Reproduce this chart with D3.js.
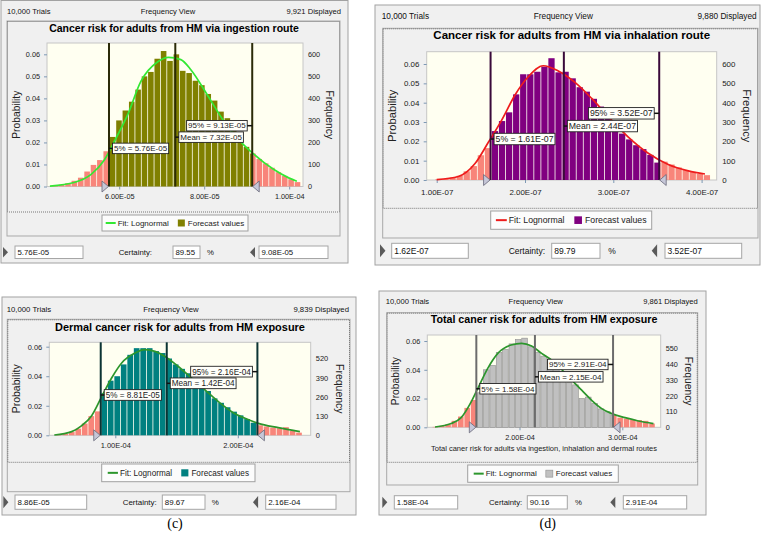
<!DOCTYPE html>
<html>
<head>
<meta charset="utf-8">
<script src="https://cdn.jsdelivr.net/npm/d3@7"></script>
<style>
  html, body { margin: 0; padding: 0; background: #fff; }
  svg { display: block; font-family: "Liberation Sans", Arial, sans-serif; }
</style>
</head>
<body>
<svg id="chart" width="766" height="541"></svg>
<script>
const trialsText = '10,000 Trials';
const viewText = 'Frequency View';
const legendText = ['Fit: Lognormal', 'Forecast values'];

// (a) ingestion
const ingestionTitle = 'Cancer risk for adults from HM via ingestion route';
const ingestionDisplayed = '9,921 Displayed';
const ingestionBins = [4.42e-5, 1.5e-6]; // first bin start, bin width
const ingestionCounts = [
  3, 8, 15, 26, 40, 68, 98, 120, 160,
  225, 300, 345, 385, 440, 500, 520, 580, 615, 570, 600, 525, 515, 480, 460,
  420, 390, 340, 310, 260, 210, 180,
  150, 125, 105, 85, 65, 48, 33, 20
];
const ingestionFit = [
  [4.37e-5, 0.0002], [4.94e-5, 0.0018], [5.34e-5, 0.0055], [5.65e-5, 0.012],
  [5.9e-5, 0.021], [6.2e-5, 0.0326], [6.51e-5, 0.0477], [6.9e-5, 0.0565],
  [7.16e-5, 0.0586], [7.45e-5, 0.0576], [7.69e-5, 0.0529], [8.06e-5, 0.042],
  [8.45e-5, 0.030], [8.85e-5, 0.0205], [9.16e-5, 0.0148], [9.63e-5, 0.0078],
  [1.0e-4, 0.0038], [1.018e-4, 0.0024]
];
const ingestionMarks = [5.76e-5, 7.32e-5, 9.13e-5];
const ingestionMarkText = ['5% = 5.76E-05', 'Mean = 7.32E-05', '95% = 9.13E-05'];
const ingestionXTicks = [6e-5, 8e-5, 1e-4];
const ingestionXTickText = ['6.00E-05', '8.00E-05', '1.00E-04'];
const ingestionProbTicks = [0, 0.01, 0.02, 0.03, 0.04, 0.05, 0.06];
const ingestionFreqTicks = [0, 100, 200, 300, 400, 500, 600];
const ingestionFooter = ['5.76E-05', '89.55', '9.08E-05'];

// (b) inhalation
const inhalationTitle = 'Cancer risk for adults from HM via inhalation route';
const inhalationDisplayed = '9,880 Displayed';
const inhalationBins = [0.98e-7, 0.8e-8];
const inhalationCounts = [
  3, 6, 12, 22, 45, 72, 128, 165,
  253, 305, 350, 443, 547, 547, 560, 586, 630, 557, 560, 526, 480, 457,
  420, 380, 320, 280, 240, 210, 180, 160, 130, 90,
  95, 80, 65, 52, 42, 32, 25
];
const inhalationFit = [
  [1.0e-7, 0.0002], [1.245e-7, 0.0018], [1.434e-7, 0.0085], [1.585e-7, 0.0195],
  [1.736e-7, 0.031], [1.887e-7, 0.044], [2.037e-7, 0.0534], [2.207e-7, 0.0591],
  [2.377e-7, 0.0564], [2.566e-7, 0.0505], [2.755e-7, 0.0422], [2.943e-7, 0.0328],
  [3.17e-7, 0.0222], [3.396e-7, 0.0138], [3.622e-7, 0.0080], [3.849e-7, 0.0047],
  [4.038e-7, 0.0031]
];
const inhalationMarks = [1.61e-7, 2.44e-7, 3.52e-7];
const inhalationMarkText = ['5% = 1.61E-07', 'Mean = 2.44E-07', '95% = 3.52E-07'];
const inhalationXTicks = [1e-7, 2e-7, 3e-7, 4e-7];
const inhalationXTickText = ['1.00E-07', '2.00E-07', '3.00E-07', '4.00E-07'];
const inhalationProbTicks = [0, 0.01, 0.02, 0.03, 0.04, 0.05, 0.06];
const inhalationFreqTicks = [0, 100, 200, 300, 400, 500, 600];
const inhalationFooter = ['1.62E-07', '89.79', '3.52E-07'];

// (c) dermal
const dermalTitle = 'Dermal cancer risk for adults from HM exposure';
const dermalDisplayed = '9,839 Displayed';
const dermalBins = [5.12e-5, 5.3e-6];
const dermalCounts = [
  3, 10, 22, 45, 80, 130, 162,
  285, 370, 400, 480, 545, 590, 590, 590, 570, 557, 520, 480, 450, 420,
  350, 330, 300, 250, 220, 190, 160, 135, 110, 85,
  68, 60, 52, 48, 55, 30, 18
];
const dermalFit = [
  [5.02e-5, 0.0002], [6.44e-5, 0.0025], [7.26e-5, 0.0066], [8.07e-5, 0.0133],
  [8.89e-5, 0.0262], [9.71e-5, 0.039], [1.052e-4, 0.049], [1.161e-4, 0.0557],
  [1.242e-4, 0.058], [1.324e-4, 0.0568], [1.406e-4, 0.0534], [1.514e-4, 0.0466],
  [1.624e-4, 0.0387], [1.732e-4, 0.0308], [1.841e-4, 0.0228], [1.95e-4, 0.016],
  [2.059e-4, 0.0115], [2.167e-4, 0.0081], [2.33e-4, 0.0052], [2.507e-4, 0.0025]
];
const dermalMarks = [8.81e-5, 1.42e-4, 2.16e-4];
const dermalMarkText = ['5% = 8.81E-05', 'Mean = 1.42E-04', '95% = 2.16E-04'];
const dermalXTicks = [1e-4, 2e-4];
const dermalXTickText = ['1.00E-04', '2.00E-04'];
const dermalProbTicks = [0, 0.02, 0.04, 0.06];
const dermalFreqTicks = [0, 130, 260, 390, 520];
const dermalFooter = ['8.86E-05', '89.67', '2.16E-04'];

// (d) total
const totalTitle = 'Total caner risk for adults  from HM exposure';
const totalDisplayed = '9,861 Displayed';
const totalAxisTitle = 'Total caner risk for adults via ingestion, inhalation and dermal routes';
const totalBins = [1.15e-4, 6.2e-6];
const totalCounts = [
  3, 10, 20, 45, 75, 135, 190,
  240, 400, 430, 520, 540, 580, 610, 620, 560, 520, 495, 455, 440, 380,
  310, 295, 200, 210, 165, 128, 108,
  85, 67, 60, 53, 50, 45, 26
];
const totalFit = [
  [1.178e-4, 0.0002], [1.335e-4, 0.0026], [1.432e-4, 0.0067], [1.53e-4, 0.0177],
  [1.594e-4, 0.027], [1.691e-4, 0.041], [1.789e-4, 0.0514], [1.918e-4, 0.0572],
  [2.021e-4, 0.0584], [2.118e-4, 0.0565], [2.215e-4, 0.0514], [2.313e-4, 0.0467],
  [2.41e-4, 0.0402], [2.508e-4, 0.0328], [2.605e-4, 0.0258], [2.702e-4, 0.0188],
  [2.8e-4, 0.013], [2.897e-4, 0.0095], [3.027e-4, 0.0067], [3.157e-4, 0.0044],
  [3.303e-4, 0.0026]
];
const totalMarks = [1.58e-4, 2.15e-4, 2.91e-4];
const totalMarkText = ['5% = 1.58E-04', 'Mean = 2.15E-04', '95% = 2.91E-04'];
const totalXTicks = [2e-4, 3e-4];
const totalXTickText = ['2.00E-04', '3.00E-04'];
const totalProbTicks = [0, 0.02, 0.04, 0.06];
const totalFreqTicks = [0, 110, 220, 330, 440, 550];
const totalFooter = ['1.58E-04', '90.16', '2.91E-04'];

const trialCount = 10000;
const tailColor = '#f8857a';

const panels = [
  {
    title: ingestionTitle, displayed: ingestionDisplayed, bins: ingestionBins,
    counts: ingestionCounts, fit: ingestionFit, marks: ingestionMarks,
    markText: ingestionMarkText, xTicks: ingestionXTicks, xTickText: ingestionXTickText,
    probTicks: ingestionProbTicks, freqTicks: ingestionFreqTicks, footer: ingestionFooter,
    barColor: '#808000', barStroke: null, lineColor: '#2b2b08', fitColor: '#33e833',
    layout: {
      s: 1, titleSize: 10.5,
      frame: [1, 0.5, 348, 263], head: [7, 168, 341], headY: 11,
      box: [7, 21, 340, 212], panelBottom: 236, title: [174, 28],
      plot: [47, 43, 303, 186.5], xDomain: [4.3012e-5, 1.03247e-4], yTop: 0.06514,
      tickY: 196, probX: 16, freqX: 330,
      legend: [102, 215, 248, 231],
      row: [246, 258.5], tri1: 3, box1: [15, 83], certR: 152, cert: [173, 200],
      pct: 207, tri2: 250, box2: [259, 328],
      labelProbs: [0.0173, 0.0224, 0.0276]
    }
  },
  {
    title: inhalationTitle, displayed: inhalationDisplayed, bins: inhalationBins,
    counts: inhalationCounts, fit: inhalationFit, marks: inhalationMarks,
    markText: inhalationMarkText, xTicks: inhalationXTicks, xTickText: inhalationXTickText,
    probTicks: inhalationProbTicks, freqTicks: inhalationFreqTicks, footer: inhalationFooter,
    barColor: '#800080', barStroke: null, lineColor: '#3a0a3a', fitColor: '#ee1c1c',
    layout: {
      s: 1.09, titleSize: 11.5,
      frame: [375, 5, 760, 265], head: [381.7, 563.3, 756.7], headY: 16,
      box: [382.7, 28.3, 758, 208.3], panelBottom: 238, title: [571.7, 35],
      plot: [426.7, 51.7, 716.7, 180], xDomain: [0.8867e-7, 4.171e-7], yTop: 0.06637,
      tickY: 192.7, probX: 391.7, freqX: 746.7,
      legend: [490.7, 211, 651.7, 229.3],
      row: [243.3, 258.3], tri1: 380, box1: [391.7, 468.3], certR: 545, cert: [551.7, 600],
      pct: 608.3, tri2: 651.7, box2: [665, 741.7],
      labelProbs: [0.0212, 0.0279, 0.0345]
    }
  },
  {
    title: dermalTitle, displayed: dermalDisplayed, bins: dermalBins,
    counts: dermalCounts, fit: dermalFit, marks: dermalMarks,
    markText: dermalMarkText, xTicks: dermalXTicks, xTickText: dermalXTickText,
    probTicks: dermalProbTicks, freqTicks: dermalFreqTicks, footer: dermalFooter,
    barColor: '#008080', barStroke: null, lineColor: '#0c3434', fitColor: '#2c962c',
    caption: '(c)',
    layout: {
      s: 1.02, titleSize: 10.95,
      frame: [2, 297, 356, 515], head: [6.7, 171, 349], headY: 309,
      box: [7.3, 319.3, 350, 462.3], panelBottom: 491.7, title: [180, 326.7],
      plot: [49.3, 342.3, 310.7, 435.3], xDomain: [4.612e-5, 2.5951e-4], yTop: 0.06297,
      tickY: 445, probX: 16.7, freqX: 339.3,
      legend: [101.7, 464, 255, 481.7],
      row: [495, 509.3], tri1: 3.3, box1: [15, 86.7], certR: 156.7, cert: [162.3, 205],
      pct: 211.7, tri2: 253, box2: [265.7, 336],
      labelProbs: [0.0273, 0.0352, 0.0431], captionAt: [175, 523]
    }
  },
  {
    title: totalTitle, displayed: totalDisplayed, bins: totalBins,
    counts: totalCounts, fit: totalFit, marks: totalMarks,
    markText: totalMarkText, xTicks: totalXTicks, xTickText: totalXTickText,
    probTicks: totalProbTicks, freqTicks: totalFreqTicks, footer: totalFooter,
    barColor: '#c0c0c0', barStroke: '#8e8e8e', lineColor: '#6c6c6c', fitColor: '#2c962c',
    axisTitle: totalAxisTitle, caption: '(d)',
    layout: {
      s: 1, titleSize: 10.7,
      frame: [379, 291, 706, 515], head: [385.7, 535.7, 697.7], headY: 301.7,
      box: [386.7, 312.7, 697.7, 462.3], panelBottom: 485, title: [544, 319.3],
      plot: [427.3, 335, 660.7, 427.3], xDomain: [1.1031e-4, 3.3735e-4], yTop: 0.06419,
      tickY: 437.7, axisTitleY: 448.3, probX: 395.7, freqX: 688.3,
      legend: [467.7, 465, 618.3, 482.3],
      row: [495.7, 509], tri1: 382.3, box1: [394.3, 457.7], certR: 522.3, cert: [527.3, 567.3],
      pct: 575, tri2: 610.3, box2: [623.3, 686.7],
      labelProbs: [0.0268, 0.0351, 0.0437], captionAt: [547.7, 523.3]
    }
  }
];

const svg = d3.select('#chart');

function rectFrom(g, [x0, y0, x1, y1]) {
  return g.append('rect')
    .attr('x', x0)
    .attr('y', y0)
    .attr('width', x1 - x0)
    .attr('height', y1 - y0);
}

function drawPanel(p) {
  const L = p.layout;
  const s = L.s;
  const g = svg.append('g');

  rectFrom(g, L.frame).attr('fill', '#f0f0f0').attr('stroke', '#a2a2a2');

  // header strip
  const header = [
    [L.head[0], 'start', trialsText],
    [L.head[1], 'middle', viewText],
    [L.head[2], 'end', p.displayed]
  ];
  g.selectAll('text.head')
    .data(header)
    .join('text')
    .attr('class', 'head')
    .attr('x', d => d[0])
    .attr('y', L.headY)
    .attr('dy', '0.35em')
    .attr('text-anchor', d => d[1])
    .style('font-size', `${7.6 * s}px`)
    .attr('fill', '#111')
    .text(d => d[2]);

  // chart panel: solid outline plus dotted chart area
  rectFrom(g, [L.box[0], L.box[1], L.box[2], L.panelBottom])
    .attr('fill', 'none')
    .attr('stroke', '#a9a9a9');
  rectFrom(g, [L.box[0] + 0.5, L.box[1] + 0.5, L.box[2] - 0.5, L.box[3]])
    .attr('fill', 'none')
    .attr('stroke', '#777')
    .attr('stroke-dasharray', '1,1');

  g.append('text')
    .attr('x', L.title[0])
    .attr('y', L.title[1])
    .attr('dy', '0.35em')
    .attr('text-anchor', 'middle')
    .style('font-size', `${L.titleSize}px`)
    .style('font-weight', 'bold')
    .attr('fill', '#000')
    .text(p.title);

  const [px0, py0, px1, py1] = L.plot;
  const x = d3.scaleLinear().domain(L.xDomain).range([px0, px1]);
  const y = d3.scaleLinear().domain([0, L.yTop]).range([py1, py0]);
  const yFreq = d3.scaleLinear().domain([0, L.yTop * trialCount]).range([py1, py0]);

  rectFrom(g, L.plot).attr('fill', '#fffff1').attr('stroke', '#c6c6c6');

  // axes
  const tickColor = '#7d98b3';
  const leftAxis = g.append('g')
    .attr('transform', `translate(${px0},0)`)
    .call(d3.axisLeft(y).tickValues(p.probTicks).tickFormat(d3.format('.2f')).tickSize(3).tickPadding(4 * s));
  const rightAxis = g.append('g')
    .attr('transform', `translate(${px1},0)`)
    .call(d3.axisRight(yFreq).tickValues(p.freqTicks).tickFormat(d3.format('d')).tickSize(0).tickPadding(5 * s));
  const bottomAxis = g.append('g')
    .attr('transform', `translate(0,${py1})`)
    .call(d3.axisBottom(x).tickValues(p.xTicks).tickFormat((d, i) => p.xTickText[i]).tickSize(3).tickPadding(2));
  for (const ax of [leftAxis, rightAxis, bottomAxis]) {
    ax.select('.domain').remove();
    ax.selectAll('line').attr('stroke', tickColor);
    ax.selectAll('text')
      .attr('fill', '#222')
      .style('font-family', '"Liberation Sans", Arial, sans-serif')
      .style('font-size', `${7.3 * s}px`);
  }
  bottomAxis.selectAll('text').attr('y', null).attr('dy', null)
    .attr('y', L.tickY - py1).attr('dy', '0.35em');

  g.append('text')
    .attr('transform', `translate(${L.probX},${(py0 + py1) / 2}) rotate(-90)`)
    .attr('dy', '0.35em')
    .attr('text-anchor', 'middle')
    .style('font-size', `${10.3 * s}px`)
    .attr('fill', '#222')
    .text('Probability');
  g.append('text')
    .attr('transform', `translate(${L.freqX},${(py0 + py1) / 2}) rotate(90)`)
    .attr('dy', '0.35em')
    .attr('text-anchor', 'middle')
    .style('font-size', `${10.3 * s}px`)
    .attr('fill', '#222')
    .text('Frequency');

  if (p.axisTitle) {
    g.append('text')
      .attr('x', (px0 + px1) / 2)
      .attr('y', L.axisTitleY)
      .attr('dy', '0.35em')
      .attr('text-anchor', 'middle')
      .style('font-size', `${7.5 * s}px`)
      .attr('fill', '#222')
      .text(p.axisTitle);
  }

  // histogram bars, split at the 5% and 95% lines
  const [start, width] = p.bins;
  const [p5, , p95] = p.marks;
  const pieces = [];
  p.counts.forEach((c, i) => {
    const lo = start + i * width;
    const hi = lo + width;
    const edges = [lo, ...[p5, p95].filter(m => m > lo && m < hi), hi];
    for (let k = 0; k < edges.length - 1; k++) {
      const mid = (edges[k] + edges[k + 1]) / 2;
      pieces.push({
        x0: x(edges[k]) + (k === 0 ? 0.4 : 0),
        x1: x(edges[k + 1]) - (k === edges.length - 2 ? 0.4 : 0),
        prob: c / trialCount,
        inside: mid >= p5 && mid <= p95
      });
    }
  });
  g.append('g')
    .selectAll('rect')
    .data(pieces)
    .join('rect')
    .attr('x', d => d.x0)
    .attr('width', d => Math.max(0, d.x1 - d.x0))
    .attr('y', d => y(d.prob))
    .attr('height', d => y(0) - y(d.prob))
    .attr('fill', d => (d.inside ? p.barColor : tailColor))
    .attr('stroke', d => (d.inside && p.barStroke ? p.barStroke : 'none'))
    .attr('stroke-width', 0.6);

  // fitted lognormal
  const fitLine = d3.line(d => x(d[0]), d => y(d[1])).curve(d3.curveMonotoneX);
  g.append('path')
    .attr('d', fitLine(p.fit))
    .attr('fill', 'none')
    .attr('stroke', p.fitColor)
    .attr('stroke-width', 1.7);

  // percentile and mean lines
  g.append('g')
    .selectAll('line')
    .data(p.marks)
    .join('line')
    .attr('x1', d => x(d))
    .attr('x2', d => x(d))
    .attr('y1', py0)
    .attr('y2', py1)
    .attr('stroke', p.lineColor)
    .attr('stroke-width', 2);

  // grabber triangles at the baseline
  const tri = (xx, dir) => {
    const w = 7 * dir;
    return `M${xx - 0.5 * dir},${py1} L${xx - w},${py1 - 5.5} L${xx - w},${py1 + 5.5} Z`;
  };
  g.append('path').attr('d', tri(x(p5), 1)).attr('fill', '#c6c7d8').attr('stroke', '#676779').attr('stroke-width', 0.8);
  g.append('path').attr('d', tri(x(p95), -1)).attr('fill', '#c6c7d8').attr('stroke', '#676779').attr('stroke-width', 0.8);

  // value labels next to the lines
  p.markText.forEach((txt, i) => {
    const lx = x(p.marks[i]);
    const ly = y(L.labelProbs[i]);
    const lab = g.append('g');
    const h = 10.5 * s;
    const box = lab.append('rect')
      .attr('y', ly - h / 2)
      .attr('height', h)
      .attr('fill', '#fffffa')
      .attr('stroke', '#222')
      .attr('stroke-width', 0.9);
    const t = lab.append('text')
      .attr('y', ly)
      .attr('dy', '0.35em')
      .style('font-size', `${8 * s}px`)
      .attr('fill', '#222')
      .text(txt);
    const tw = t.node().getComputedTextLength();
    const bw = tw + 3;
    const bx = i === 2 ? lx - 5 - bw : lx + 3.5;
    box.attr('x', bx).attr('width', bw);
    t.attr('x', bx + 1.5);
    lab.append('line')
      .attr('x1', lx)
      .attr('x2', i === 2 ? bx + bw : bx)
      .attr('y1', ly)
      .attr('y2', ly)
      .attr('stroke', '#111')
      .attr('stroke-width', 1.5);
  });

  // legend
  const [lx0, ly0, lx1, ly1] = L.legend;
  rectFrom(g, L.legend).attr('fill', '#fcfcfc').attr('stroke', '#a0a0a0');
  const ly = (ly0 + ly1) / 2;
  const leg = g.append('g');
  const t1 = leg.append('text').attr('y', ly).attr('dy', '0.35em')
    .style('font-size', `${8 * s}px`).attr('fill', '#222').text(legendText[0]);
  const t2 = leg.append('text').attr('y', ly).attr('dy', '0.35em')
    .style('font-size', `${8 * s}px`).attr('fill', '#222').text(legendText[1]);
  const w1 = t1.node().getComputedTextLength();
  const w2 = t2.node().getComputedTextLength();
  const sq = 7 * s;
  const total = 10 * s + 2 + w1 + 9 * s + sq + 3 + w2;
  let cx = (lx0 + lx1) / 2 - total / 2;
  leg.append('line').attr('x1', cx).attr('x2', cx + 10 * s).attr('y1', ly).attr('y2', ly)
    .attr('stroke', p.fitColor).attr('stroke-width', 2);
  cx += 10 * s + 2;
  t1.attr('x', cx);
  cx += w1 + 9 * s;
  leg.append('rect').attr('x', cx).attr('y', ly - sq / 2).attr('width', sq).attr('height', sq)
    .attr('fill', p.barColor).attr('stroke', p.barStroke || 'none').attr('stroke-width', 0.6);
  cx += sq + 3;
  t2.attr('x', cx);

  // bottom certainty row
  const [ry0, ry1] = L.row;
  const ry = (ry0 + ry1) / 2;
  const arrow = (xx, dir) => dir > 0
    ? `M${xx},${ry0 + 1} L${xx + 5 * s},${ry} L${xx},${ry1 - 1} Z`
    : `M${xx + 5 * s},${ry0 + 1} L${xx},${ry} L${xx + 5 * s},${ry1 - 1} Z`;
  g.append('path').attr('d', arrow(L.tri1, 1)).attr('fill', '#5a5a5a');
  g.append('path').attr('d', arrow(L.tri2, -1)).attr('fill', '#5a5a5a');
  const fields = [L.box1, L.cert, L.box2];
  fields.forEach((f, i) => {
    rectFrom(g, [f[0], ry0, f[1], ry1]).attr('fill', '#fff').attr('stroke', '#a6a6a6');
    g.append('text')
      .attr('x', f[0] + 2.5)
      .attr('y', ry)
      .attr('dy', '0.35em')
      .style('font-size', `${7.8 * s}px`)
      .attr('fill', '#111')
      .text(p.footer[i]);
  });
  g.append('text')
    .attr('x', L.certR)
    .attr('y', ry)
    .attr('dy', '0.35em')
    .attr('text-anchor', 'end')
    .style('font-size', `${7.8 * s}px`)
    .attr('fill', '#111')
    .text('Certainty:');
  g.append('text')
    .attr('x', L.pct)
    .attr('y', ry)
    .attr('dy', '0.35em')
    .style('font-size', `${7.8 * s}px`)
    .attr('fill', '#111')
    .text('%');

  if (p.caption) {
    svg.append('text')
      .attr('x', L.captionAt[0])
      .attr('y', L.captionAt[1])
      .attr('dy', '0.35em')
      .attr('text-anchor', 'middle')
      .style('font-family', '"Liberation Serif", "Times New Roman", serif')
      .style('font-size', '14px')
      .attr('fill', '#000')
      .text(p.caption);
  }
}

panels.forEach(drawPanel);
</script>
</body>
</html>
